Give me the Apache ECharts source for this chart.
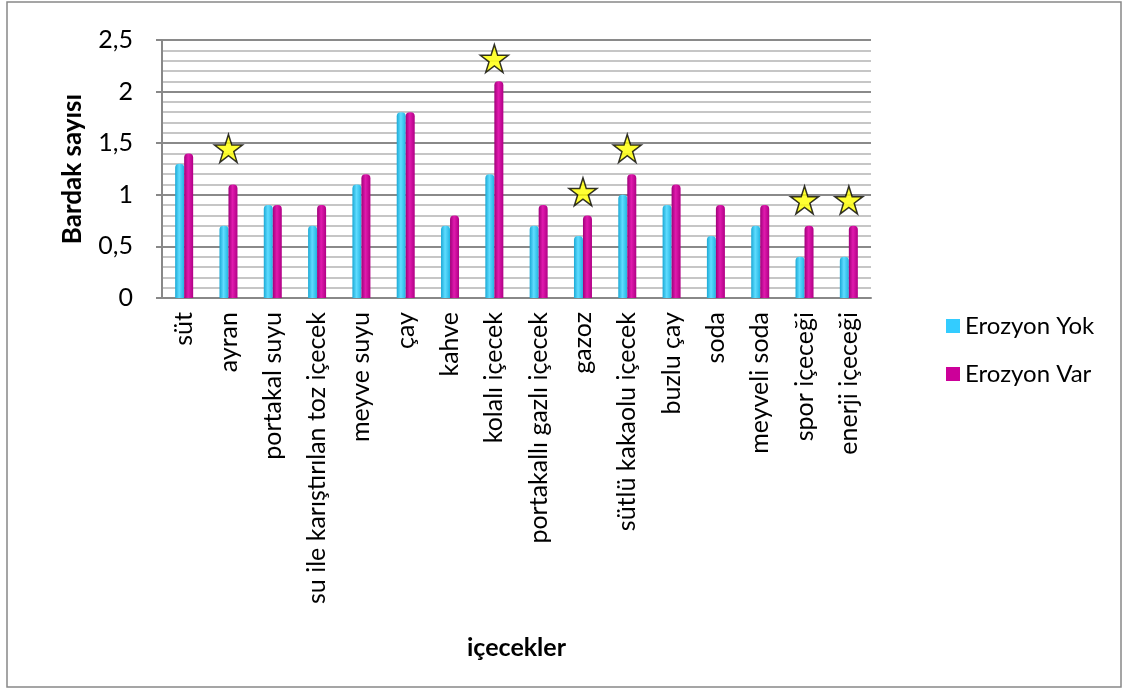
<!DOCTYPE html>
<html>
<head>
<meta charset="utf-8">
<style>
  html, body { margin: 0; padding: 0; background: #fff; }
  #main { width: 1122px; height: 688px; }
</style>
<script src="https://cdn.jsdelivr.net/npm/echarts@6/dist/echarts.min.js"></script>
</head>
<body>
<div id="main"></div>
<script>
// içecek kategorileri
var categories = ['süt', 'ayran', 'portakal suyu', 'su ile karıştırılan toz içecek', 'meyve suyu', 'çay',
  'kahve', 'kolalı içecek', 'portakallı gazlı içecek', 'gazoz', 'sütlü kakaolu içecek', 'buzlu çay',
  'soda', 'meyveli soda', 'spor içeceği', 'enerji içeceği'];
// bardak sayıları
var erozyonYok = [1.3, 0.7, 0.9, 0.7, 1.1, 1.8, 0.7, 1.2, 0.7, 0.6, 1.0, 0.9, 0.6, 0.7, 0.4, 0.4];
var erozyonVar = [1.4, 1.1, 0.9, 0.9, 1.2, 1.8, 0.8, 2.1, 0.9, 0.8, 1.2, 1.1, 0.9, 0.9, 0.7, 0.7];
// yıldız işaretleri (anlamlı fark)
var yildizlar = [null, 1.45, null, null, null, null, null, 2.32, null, 1.03, 1.45, null, null, null, 0.95, 0.95];
var yTicks = ['0', '0,5', '1', '1,5', '2', '2,5'];

var starPath = 'path://M50,0 L61.8,35.5 L100,35.5 L69.1,57.4 L80.9,93 L50,71 L19.1,93 L30.9,57.4 L0,35.5 L38.2,35.5 Z';

function cylinder(a, b, c) {
  return new echarts.graphic.LinearGradient(0, 0, 1, 0, [
    { offset: 0, color: a }, { offset: 0.45, color: b }, { offset: 1, color: c }
  ]);
}

var font = 'Lato, "Open Sans", sans-serif';
var myChart = echarts.init(document.getElementById('main'));

myChart.setOption({
  backgroundColor: '#fff',
  animation: false,
  grid: { left: 162, right: 251, top: 40, bottom: 390 },
  legend: {
    orient: 'vertical',
    left: 941,
    top: 309,
    itemWidth: 14,
    itemHeight: 14,
    itemGap: 24,
    icon: 'rect',
    textStyle: { fontFamily: font, fontSize: 24, color: '#000' },
    data: [
      { name: 'Erozyon Yok', itemStyle: { color: '#33CCFF' } },
      { name: 'Erozyon Var', itemStyle: { color: '#CC0099' } }
    ]
  },
  xAxis: {
    type: 'category',
    data: categories,
    name: 'içecekler',
    nameLocation: 'middle',
    nameGap: 337,
    nameTextStyle: { fontFamily: font, fontSize: 25, fontWeight: 'bold', color: '#000' },
    axisLine: { lineStyle: { color: '#888', width: 2 } },
    axisTick: { show: false },
    axisLabel: {
      rotate: 90,
      margin: 14,
      interval: 0,
      fontFamily: font,
      fontSize: 25,
      color: '#000'
    }
  },
  yAxis: {
    type: 'value',
    min: 0,
    max: 2.5,
    interval: 0.5,
    name: 'Bardak sayısı',
    nameLocation: 'middle',
    nameRotate: 90,
    nameGap: 76,
    nameTextStyle: { fontFamily: font, fontSize: 26, fontWeight: 'bold', color: '#000' },
    axisLine: { show: true, lineStyle: { color: '#888', width: 2 } },
    axisTick: { show: true, length: 6, lineStyle: { color: '#888', width: 2 } },
    axisLabel: {
      margin: 29,
      fontFamily: font,
      fontSize: 25,
      color: '#000',
      formatter: function (v) { return yTicks[Math.round(v / 0.5)]; }
    },
    splitLine: { show: true, lineStyle: { color: '#8a8a8a', width: 2 } },
    minorTick: { show: false, splitNumber: 5 },
    minorSplitLine: { show: true, lineStyle: { color: '#b4b4b4', width: 1.5 } }
  },
  series: [
    {
      name: 'Erozyon Yok',
      type: 'bar',
      barWidth: 9,
      barGap: '0%',
      itemStyle: { color: cylinder('#1aa9d6', '#5fdcff', '#22b4e2'), borderRadius: [4, 4, 0, 0] },
      data: erozyonYok
    },
    {
      name: 'Erozyon Var',
      type: 'bar',
      barWidth: 9,
      barGap: '0%',
      itemStyle: { color: cylinder('#a0007a', '#e01aae', '#b00085'), borderRadius: [4, 4, 0, 0] },
      data: erozyonVar
    },
    {
      name: 'yildiz',
      type: 'scatter',
      symbol: starPath,
      symbolSize: 28,
      itemStyle: { color: '#FFFF00', borderColor: '#000', borderWidth: 1.5 },
      data: yildizlar,
      z: 5
    }
  ],
  graphic: [
    {
      type: 'rect',
      shape: { x: 7, y: 2, width: 1114, height: 685 },
      style: { fill: 'none', stroke: '#888', lineWidth: 1.5 },
      silent: true
    }
  ]
});
</script>
</body>
</html>
